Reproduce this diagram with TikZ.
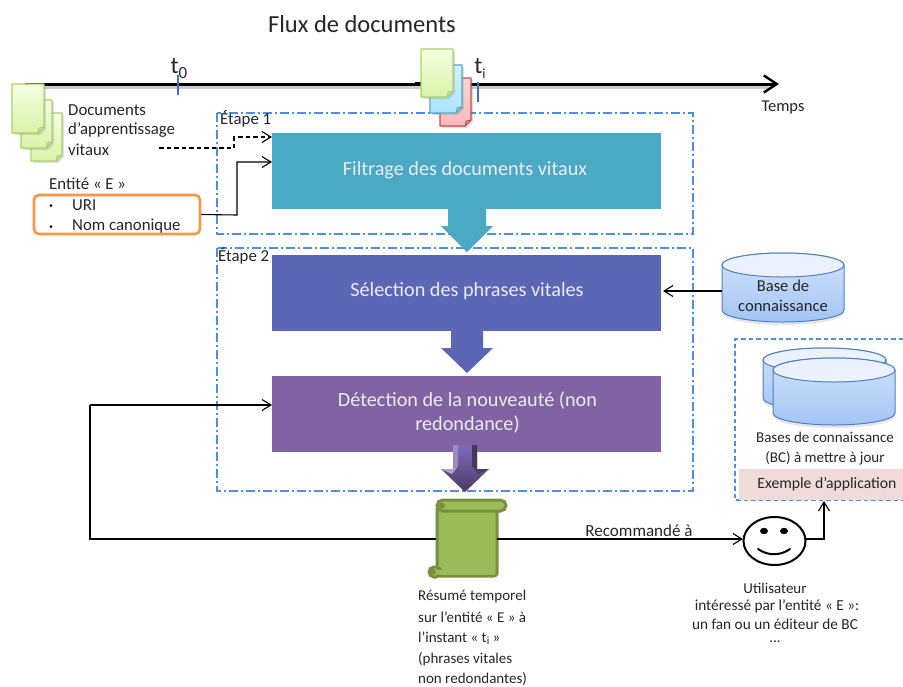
\documentclass[tikz,border=0pt]{standalone}
\usepackage{fontspec}
\setmainfont{Carlito}
\usetikzlibrary{arrows.meta,shadows,calc}
\definecolor{stageblue}{HTML}{4F8FDF}
\definecolor{tickblue}{HTML}{3F72B5}
\definecolor{tealbox}{HTML}{4BA9C4}
\definecolor{bluebox}{HTML}{5B67B5}
\definecolor{purplebox}{HTML}{8063A2}
\definecolor{orangeb}{HTML}{F79646}
\definecolor{scrollf}{HTML}{9BBB59}
\definecolor{scrolld}{HTML}{7A9040}
\definecolor{cylline}{HTML}{4F81BD}
\definecolor{cyltop}{HTML}{D3E3FA}
\definecolor{cylbot}{HTML}{A2C4F4}
\definecolor{pgreen}{HTML}{ADCF6C}
\definecolor{pgreenT}{HTML}{F5FFE2}
\definecolor{pgreenB}{HTML}{D8F2A8}
\definecolor{pred}{HTML}{C0504D}
\definecolor{predT}{HTML}{FFD6D6}
\definecolor{predB}{HTML}{FFB9B9}
\definecolor{pblue}{HTML}{4BACC6}
\definecolor{pblueT}{HTML}{D2F3FF}
\definecolor{pblueB}{HTML}{ABE4FB}
\definecolor{pinkbox}{HTML}{F0DBDA}
\tikzset{
  x=1pt,y=-1pt,
  txt/.style={inner sep=0pt,font=\fontsize{#1}{#1}\selectfont,text=black!85},
  txt/.default=15,
  stagebox/.style={draw=stageblue,line width=1.1pt,dash pattern=on 9pt off 3pt on 2pt off 3pt},
  bigbox/.style={inner sep=0pt,minimum width=389pt,minimum height=76pt},
  bigtext/.style={inner sep=0pt,text=white!92!black,align=center,font=\fontsize{20.2}{24}\selectfont},
  link/.style={draw=black,line width=1.1pt,-{Straight Barb[length=9pt,width=11pt,line width=1.1pt]}},
  plain/.style={draw=black,line width=1.1pt},
  pagefold/.style={line width=1.2pt,line join=round,drop shadow={shadow xshift=2pt,shadow yshift=-2pt,opacity=.25}},
}
% page: x y w h border top bottom
\newcommand\docpage[7]{%
  \path[pagefold,draw=#5,top color=#6,bottom color=#7]
    (#1,#2) -- ++(#3,0) -- ++(0,#4-6) -- ++(-6,6) -- ++(-#3+6,0) -- cycle;
  \path[draw=#5,fill=#5!60,line width=0.8pt,line join=round]
    (#1+#3,#2+#4-6) -- ++(-5,1) -- ++(-1,5) -- cycle;
}
% cylinder: left right top-of-ellipse-centre y, bottom-centre y
\newcommand\cyl[4]{%
  \path[draw=cylline,line width=1pt,top color=cyltop,bottom color=cylbot,drop shadow={shadow xshift=0pt,shadow yshift=-3pt,opacity=.2}]
    (#1,#3) -- (#1,#4) arc[start angle=180,end angle=360,x radius={(#2-#1)/2},y radius=-12]
    -- (#2,#3) arc[start angle=0,end angle=180,x radius={(#2-#1)/2},y radius=-12] -- cycle;
  \path[draw=cylline,line width=1pt,fill=cyltop!45!white]
    ({(#1+#2)/2},#3) ellipse[x radius={(#2-#1)/2},y radius=12];
}
\begin{document}
\begin{tikzpicture}
\useasboundingbox (0,0) rectangle (903,686);
\fill[white] (0,0) rectangle (903,686);

% title
\node[txt=24.5] (title) at (362,24) {Flux de documents};

% timeline
\coordinate (tstart) at (25,84);
\coordinate (tend) at (779,84);
\draw[black!20,line width=3pt] (27,87) -- (770,87);
\draw[black,line width=3pt,-{Straight Barb[length=13pt,width=17pt,line width=2.4pt]}] (tstart) -- (tend);
\draw[black,line width=4pt] (415,84) -- (425,84);
\node[txt=24] (tzero) at (179,68) {t\raisebox{-5pt}{\fontsize{17}{17}\selectfont 0}};
\coordinate (tza) at (178,75); \coordinate (tzb) at (178,95);
\draw[tickblue,line width=1.6pt] (tza) -- (tzb);
\node[txt=24] (ti) at (480,68) {t\raisebox{-5pt}{\fontsize{14}{14}\selectfont i}};
\coordinate (tia) at (478,82); \coordinate (tib) at (478,102);
\draw[tickblue,line width=1.6pt] (tia) -- (tib);
\node[txt=16.5] (temps) at (783,108) {Temps};

% stage boxes
\draw[stagebox] (217,113) rectangle (693,234);
\draw[stagebox] (217,248) rectangle (693,491);
\node[txt=16.8,anchor=west] (et1) at (220,119) {Étape 1};
\node[txt=16.8,anchor=west] (et2) at (218,256) {Étape 2};

% pages
\docpage{31}{113}{31}{48}{pgreen}{pgreenT}{pgreenB}
\docpage{21}{100}{31}{48}{pgreen}{pgreenT}{pgreenB}
\docpage{12}{84}{32}{49}{pgreen}{pgreenT}{pgreenB}
\docpage{440}{78}{31}{48}{pred}{predT}{predB}
\docpage{430}{65}{32}{48}{pblue}{pblueT}{pblueB}
\docpage{421}{49}{32}{48}{pgreen}{pgreenT}{pgreenB}

% boxes
\node[bigbox,fill=tealbox] (filter) at (466.5,171) {};
\node[bigtext] (filtertx) at (465,170) {Filtrage des documents vitaux};
\node[bigbox,fill=bluebox] (select) at (466.5,293) {};
\node[bigtext] (selecttx) at (467,291) {Sélection des phrases vitales};
\node[bigbox,fill=purplebox] (detect) at (466.5,414) {};
\node[bigtext] (detecttx) at (467.5,412.5) {Détection de la nouveauté (non\\redondance)};

% block arrows
\fill[tealbox] (448,209) -- (486,209) -- (486,226) -- (493,226) -- (467,252) -- (441,226) -- (448,226) -- cycle;
\fill[bluebox] (451,331) -- (483,331) -- (483,348) -- (493,348) -- (467,373) -- (441,348) -- (451,348) -- cycle;
\path[top color=purplebox!80!blue!85!white,bottom color=purplebox!60!black] (453,445) -- (477,445) -- (477,469) -- (489,469) -- (465,492) -- (441,469) -- (453,469) -- cycle;
\fill[purplebox!75!white] (453,445) -- (458,445) -- (458,466) -- (453,469) -- cycle;
\fill[purplebox!55!black] (477,445) -- (472,445) -- (472,466) -- (477,469) -- cycle;
\fill[purplebox!60!white] (441,469) -- (453,469) -- (458,466) -- (452,474) -- cycle;
\fill[purplebox!60!black] (489,469) -- (477,469) -- (472,466) -- (478,474) -- cycle;

% left texts
\node[txt=16.8,anchor=west] (doc1) at (68,110) {Documents};
\node[txt=16.8,anchor=west] (doc2) at (68,130) {d’apprentissage};
\node[txt=16.8,anchor=west] (doc3) at (68,150) {vitaux};
\node[txt=16.8,anchor=west] (entlab) at (49,184) {Entité « E »};
\node[draw=orangeb,line width=2.6pt,rounded corners=5pt,minimum width=166pt,minimum height=39pt,inner sep=0pt] (entity) at (117,214.5) {};
\node[txt=16.8,anchor=west] (uri) at (72,205) {URI};
\node[txt=16.8,anchor=west] (nom) at (72,226) {Nom canonique};
\fill[black] (51,205.5) circle (1.5pt) (51,226.5) circle (1.5pt);

% links to filter
\coordinate (dashstart) at (159,148);
\coordinate (dashend) at (272,137);
\coordinate (solidend) at (272,162);
\draw[link,dash pattern=on 4.5pt off 3pt] (dashstart) -- (234,148) -- (234,137) -- (dashend);
\draw[link] (entity.east) -- (237,215) -- (237,162) -- (solidend);

% knowledge base
\cyl{722}{844}{265}{310}
\node[inner sep=0pt,minimum width=122pt,minimum height=69pt] (kb) at (783,288) {};
\node[txt=16.6,align=center] (kbtx) at (783,296) {Base de\\[3.5pt]connaissance};
\coordinate (selecte) at (663,291);
\draw[link] (kb.west |- selecte) -- (selecte);

% right dashed box
\coordinate (rtr) at (903,339); \coordinate (rtl) at (735,339); \coordinate (rbl) at (735,500); \coordinate (rbr) at (903,500);
\draw[stageblue,line width=1.1pt,dash pattern=on 4.5pt off 3pt] (rtr) -- (rtl) -- (rbl) -- (rbr);
\cyl{763}{886}{360}{398}
\cyl{773}{895}{370}{413}
\node[fill=pinkbox,minimum width=164pt,minimum height=31pt,inner sep=0pt] (ex) at (821,484) {};
\node[txt=15.7] (extx) at (827,484) {Exemple d’application};
\node[txt=15,align=center] (bcq) at (825,449) {Bases de connaissance\\[5pt](BC) à mettre à jour};

% scroll
\node[minimum width=61pt,minimum height=78pt,inner sep=0pt] (scroll) at (466.5,538) {};
\draw[scrolld,line width=3pt,fill=scrollf,line join=round,rounded corners=3pt]
  (437,506) -- (437,576) -- (497,576) -- (497,506) -- cycle;
\draw[scrolld,line width=3pt,fill=scrollf,rounded corners=5.5pt] (437,500) rectangle (506,511);
\draw[scrolld,line width=3pt,fill=scrollf,rounded corners=5pt] (429,567) rectangle (441,577);
\fill[scrollf] (439,570) rectangle (495,574.5);
\fill[scrolld] (442,505.5) circle (3pt);
\fill[scrolld] (433,572) circle (3pt);

% connectors round the scroll and the face
\coordinate (purplein) at (272,405);
\coordinate (loopa) at (90,539);
\coordinate (loopb) at (90,405);
\draw[plain] (scroll.west |- loopa) -- (loopa) -- (loopb);
\draw[link] (loopb) -- (purplein);
\draw[black,line width=2pt] (774.5,541) ellipse[x radius=31,y radius=24];
\coordinate (facew) at (743,539);
\coordinate (facee) at (806,539);
\draw[link] (scroll.east |- loopa) -- (facew);
\fill[black] (764,531) ellipse[x radius=4,y radius=3.2] (784,531) ellipse[x radius=4,y radius=3.2];
\draw[black,line width=2pt,line cap=round] (758,549) .. controls (768,556) and (780,556) .. (790,549);
\coordinate (boxup) at (824,501);
\draw[link] (facee) -- (824,539) -- (boxup);
\node[txt=17] (reco) at (639,531) {Recommandé à};

% bottom texts
\node[txt=15,anchor=west] (r1) at (418,596) {Résumé temporel};
\node[txt=15,anchor=west] (r2) at (418,617) {sur l’entité « E » à};
\node[txt=15,anchor=west] (r3) at (418,638) {l’instant « t\raisebox{-2pt}{\fontsize{11}{11}\selectfont i} »};
\node[txt=15,anchor=west] (r4) at (418,659) {(phrases vitales};
\node[txt=15,anchor=west] (r5) at (418,679) {non redondantes)};
\node[txt=15] (u1) at (775,588) {Utilisateur};
\node[txt=15.3] (u2) at (777,606) {intéressé par l’entité « E »:};
\node[txt=15.3] (u3) at (775,624) {un fan ou un éditeur de BC};
\node[txt=15] (u4) at (775,642) {...};
\end{tikzpicture}
\end{document}
